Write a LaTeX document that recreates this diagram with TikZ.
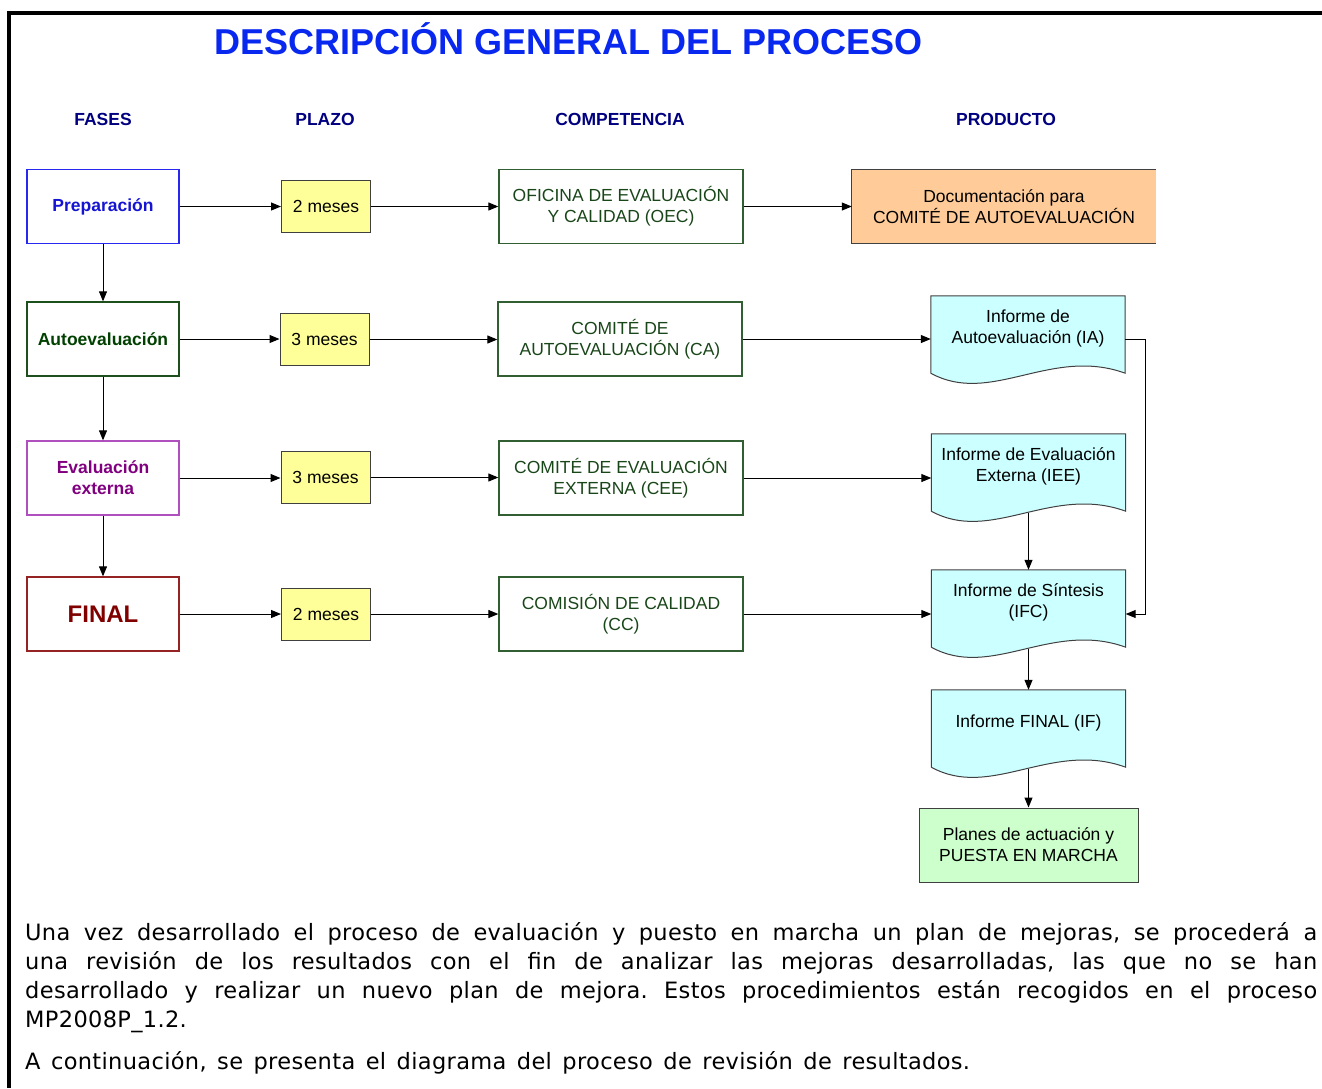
\documentclass[tikz,border=0pt]{standalone}
\usepackage{fontspec}
\setmainfont{Liberation Sans}
\newfontfamily\parafont[WordSpace=1.4,LetterSpace=1.5]{DejaVu Sans}
\usepackage{tikz}
\usetikzlibrary{arrows.meta,calc,backgrounds}
\frenchspacing

\definecolor{titleblue}{RGB}{8,40,240}
\definecolor{headnavy}{RGB}{0,0,128}
\definecolor{prepblue}{RGB}{20,20,210}
\definecolor{prepline}{RGB}{40,40,240}
\definecolor{autogreen}{RGB}{0,64,0}
\definecolor{autoline}{RGB}{30,80,30}
\definecolor{evalpurple}{RGB}{128,0,128}
\definecolor{evalline}{RGB}{175,80,190}
\definecolor{finalred}{RGB}{128,0,0}
\definecolor{finalline}{RGB}{150,35,35}
\definecolor{plazofill}{RGB}{255,255,153}
\definecolor{compgreen}{RGB}{25,70,25}
\definecolor{compline}{RGB}{50,95,50}
\definecolor{docorange}{RGB}{255,204,153}
\definecolor{doccyan}{RGB}{204,255,255}
\definecolor{plangreen}{RGB}{204,255,204}
\definecolor{edgegray}{RGB}{64,64,64}

\tikzset{
  boxfont/.style={font=\fontsize{17.5}{21}\selectfont},
  header/.style={text=headnavy, font=\fontsize{17.5}{21}\selectfont\bfseries},
  fasebox/.style={draw, line width=1.3pt, minimum width=152pt, minimum height=74pt, align=center, font=\fontsize{17.5}{21}\selectfont\bfseries},
  plazobox/.style={draw=edgegray, fill=plazofill, line width=1pt, minimum width=89pt, minimum height=52pt, boxfont},
  compbox/.style={draw=compline, text=compgreen, line width=1.3pt, minimum width=244pt, minimum height=74pt, align=center, boxfont},
  docbox/.style={minimum width=194pt, minimum height=65pt, inner sep=0pt, align=center, boxfont},
  planbox/.style={draw=edgegray, fill=plangreen, line width=1pt, minimum width=219pt, minimum height=74pt, align=center, boxfont},
  arr/.style={-{Triangle[length=10pt,width=8pt]}, line width=1pt},
}

% document shape with wavy bottom, drawn behind a docbox node
\newcommand{\docshape}[1]{%
  \begin{pgfonlayer}{background}
    \draw[draw=edgegray, fill=doccyan, line width=1pt] (#1.north west) -- (#1.north east) -- ($(#1.south east)+(0,12)$) .. controls ($(#1.south west)+(120,-15)$) and ($(#1.south west)+(60,45)$) .. ($(#1.south west)+(0,12)$) -- cycle;
  \end{pgfonlayer}
  \coordinate (#1-bot) at ($(#1.south)+(0,14)$);}

\begin{document}
\begin{tikzpicture}[x=1pt,y=1pt,yscale=-1,xscale=1]
\path[use as bounding box] (0,0) rectangle (1322,1088);

%Shape: Frame
\draw[line width=4pt, line join=miter] (1322,13) -- (9,13) -- (9,1088);

% Text Node
\draw (568.5,39) node [text=titleblue, font=\fontsize{36}{40}\selectfont\bfseries] (title) {DESCRIPCIÓN GENERAL DEL PROCESO};
% Text Node
\draw (103,119) node [header] (hfases) {FASES};
% Text Node
\draw (325,119) node [header] (hplazo) {PLAZO};
% Text Node
\draw (620,119) node [header] (hcomp) {COMPETENCIA};
% Text Node
\draw (1006,119) node [header] (hprod) {PRODUCTO};

%Shape: Rectangle (fases)
\draw (103,206.5) node [fasebox, draw=prepline, text=prepblue] (prep) {Preparación};
\draw (103,339) node [fasebox, draw=autoline, text=autogreen] (auto) {Autoevaluación};
\draw (103,478) node [fasebox, draw=evalline, text=evalpurple] (eval) {Evaluación\\externa};
\draw (103,614) node [fasebox, draw=finalline, text=finalred, font=\fontsize{24}{28}\selectfont\bfseries] (fin) {FINAL};

%Shape: Rectangle (plazo)
\draw (326,206.5) node [plazobox] (p1) {2 meses};
\draw (324.5,339.5) node [plazobox] (p2) {3 meses};
\draw (325.5,477.5) node [plazobox] (p3) {3 meses};
\draw (326,614) node [plazobox] (p4) {2 meses};

%Shape: Rectangle (competencia)
\draw (621,206.5) node [compbox] (c1) {OFICINA DE EVALUACIÓN\\Y CALIDAD (OEC)};
\draw (620,339) node [compbox] (c2) {COMITÉ DE\\AUTOEVALUACIÓN (CA)};
\draw (621,478) node [compbox] (c3) {COMITÉ DE EVALUACIÓN\\EXTERNA (CEE)};
\draw (621,614) node [compbox] (c4) {COMISIÓN DE CALIDAD\\(CC)};

%Shape: Rectangle (producto)
\draw (1004,206.5) node [fill=docorange, minimum width=304pt, minimum height=73pt, align=center, boxfont] (doc) {Documentación para\\COMITÉ DE AUTOEVALUACIÓN};
\draw[line width=1pt, draw=edgegray] (doc.north east) -- (doc.north west) -- (doc.south west) -- (doc.south east);

%Shape: Document
\draw (1028,328.5) node [docbox] (ia) {Informe de\\Autoevaluación (IA)};
\docshape{ia}
\draw (1028.5,466.5) node [docbox] (iee) {Informe de Evaluación\\Externa (IEE)};
\docshape{iee}
\draw (1028.5,602.5) node [docbox] (ifc) {Informe de Síntesis\\(IFC)};
\docshape{ifc}
\draw (1028.5,722.5) node [docbox] (if) {Informe FINAL (IF)};
\docshape{if}

%Shape: Rectangle
\draw (1028.5,845) node [planbox] (plan) {Planes de actuación y\\PUESTA EN MARCHA};

%Straight Lines
\draw[arr] (prep) -- (auto);
\draw[arr] (auto) -- (eval);
\draw[arr] (eval) -- (fin);
\draw[arr] (prep.east) -- (prep.east -| p1.west);
\draw[arr] (auto.east) -- (auto.east -| p2.west);
\draw[arr] (eval.east) -- (eval.east -| p3.west);
\draw[arr] (fin.east) -- (fin.east -| p4.west);
\draw[arr] (p1.east) -- (p1.east -| c1.west);
\draw[arr] (p2.east) -- (p2.east -| c2.west);
\draw[arr] (p3.east) -- (p3.east -| c3.west);
\draw[arr] (p4.east) -- (p4.east -| c4.west);
\draw[arr] (c1.east) -- (c1.east -| doc.west);
\draw[arr] (c2.east) -- (c2.east -| ia.west);
\draw[arr] (c3.east) -- (c3.east -| iee.west);
\draw[arr] (c4.east) -- (c4.east -| ifc.west);
\draw[arr] (c2.east -| ia.east) -- ++(20,0) |- (c4.east -| ifc.east);
\draw[arr] (iee-bot) -- (ifc.north);
\draw[arr] (ifc-bot) -- (if.north);
\draw[arr] (if-bot) -- (plan.north);

% Text Node
\draw (25,922.5) node [anchor=north west, inner sep=0pt, align=left, font=\parafont\fontsize{22.5}{29}\selectfont] (par1) {\makebox[1292pt][s]{Una vez desarrollado el proceso de evaluación y puesto en marcha un plan de mejoras, se procederá a}\\
\makebox[1292pt][s]{una revisión de los resultados con el fin de analizar las mejoras desarrolladas, las que no se han}\\
\makebox[1292pt][s]{desarrollado y realizar un nuevo plan de mejora. Estos procedimientos están recogidos en el proceso}\\
MP2008P\_1.2.};
% Text Node
\draw (25,1069) node [anchor=base west, inner sep=0pt, font=\parafont\fontsize{22.5}{29}\selectfont] (par2) {A continuación, se presenta el diagrama del proceso de revisión de resultados.};

\end{tikzpicture}
\end{document}
